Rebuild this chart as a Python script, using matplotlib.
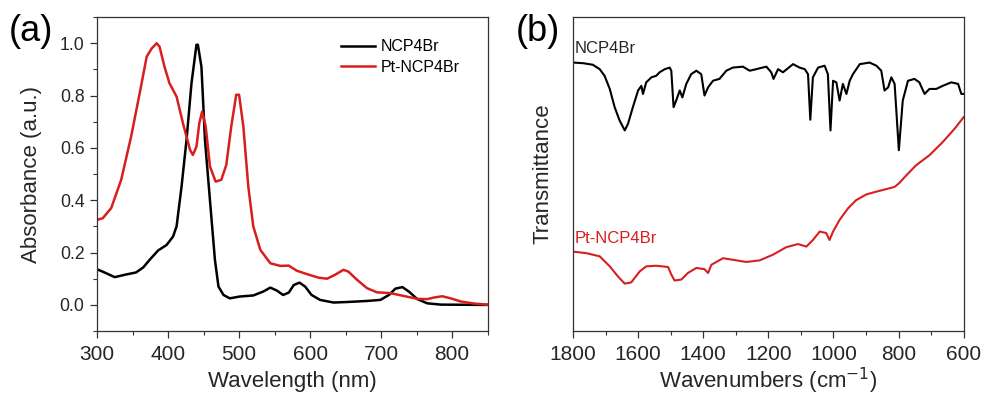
import matplotlib
matplotlib.use('Agg')
import matplotlib.pyplot as plt
from matplotlib.ticker import MultipleLocator, NullLocator

plt.rcParams['font.family'] = ['Liberation Sans', 'DejaVu Sans']

# UV-vis absorbance (panel a)
wl_ncp = [300, 308, 325, 339, 355, 365, 374, 386, 398, 407, 412, 419, 426, 433, 440, 442,
          447, 452, 459, 466, 471, 478, 487, 501, 520, 534, 544, 553, 562, 570, 577, 585,
          593, 602, 614, 633, 652, 680, 699, 711, 720, 730, 739, 751, 765, 784, 850]
abs_ncp = [0.136, 0.127, 0.106, 0.115, 0.124, 0.143, 0.172, 0.208, 0.229, 0.261, 0.30, 0.452,
           0.63, 0.847, 0.994, 0.994, 0.91, 0.63, 0.40, 0.172, 0.07, 0.038, 0.025, 0.032,
           0.036, 0.051, 0.066, 0.055, 0.038, 0.047, 0.076, 0.085, 0.07, 0.038, 0.019, 0.009,
           0.011, 0.015, 0.019, 0.038, 0.062, 0.068, 0.051, 0.022, 0.006, 0.001, 0.0]

wl_pt = [300, 308, 320, 334, 348, 360, 370, 377, 384, 388, 395, 402, 412, 421, 431, 435,
         440, 444, 448, 453, 459, 467, 475, 482, 489, 496, 500, 506, 513, 520, 530, 544,
         558, 570, 581, 595, 612, 624, 635, 647, 654, 666, 680, 694, 713, 732, 751, 765,
         774, 786, 798, 812, 831, 850]
abs_pt = [0.325, 0.331, 0.37, 0.478, 0.643, 0.808, 0.949, 0.98, 1.0, 0.987, 0.91, 0.847,
          0.796, 0.694, 0.592, 0.573, 0.605, 0.694, 0.739, 0.682, 0.529, 0.471, 0.478,
          0.535, 0.682, 0.803, 0.803, 0.682, 0.452, 0.30, 0.21, 0.159, 0.149, 0.150, 0.131,
          0.118, 0.104, 0.10, 0.115, 0.134, 0.127, 0.096, 0.064, 0.048, 0.045, 0.034, 0.023,
          0.022, 0.028, 0.033, 0.025, 0.013, 0.005, 0.001]

# FTIR transmittance, arbitrary units (panel b)
wn_ncp = [1800, 1769, 1739, 1718, 1703, 1687, 1672, 1657, 1641, 1631, 1616, 1600, 1590, 1585,
          1575, 1559, 1544, 1534, 1518, 1503, 1498, 1491, 1483, 1472, 1464, 1452, 1437, 1421,
          1406, 1396, 1385, 1370, 1350, 1329, 1309, 1278, 1257, 1237, 1206, 1191, 1184, 1170,
          1155, 1124, 1104, 1088, 1078, 1071, 1063, 1047, 1027, 1017, 1009, 1001, 991, 981,
          971, 960, 950, 940, 919, 889, 868, 853, 843, 832, 822, 812, 799, 787, 771, 751, 736,
          720, 705, 684, 664, 638, 617, 607, 600]
tr_ncp = [0.855, 0.853, 0.848, 0.834, 0.813, 0.771, 0.713, 0.671, 0.639, 0.660, 0.713, 0.766,
          0.781, 0.755, 0.792, 0.808, 0.813, 0.824, 0.834, 0.839, 0.829, 0.713, 0.734, 0.766,
          0.744, 0.787, 0.818, 0.829, 0.818, 0.750, 0.776, 0.797, 0.803, 0.829, 0.839, 0.842,
          0.829, 0.834, 0.842, 0.824, 0.803, 0.834, 0.824, 0.850, 0.839, 0.834, 0.818, 0.673,
          0.808, 0.839, 0.845, 0.818, 0.639, 0.797, 0.792, 0.734, 0.787, 0.755, 0.797, 0.818,
          0.850, 0.855, 0.845, 0.829, 0.766, 0.776, 0.808, 0.787, 0.576, 0.734, 0.797, 0.803,
          0.792, 0.755, 0.771, 0.771, 0.781, 0.792, 0.787, 0.755, 0.755]

wn_pt = [1800, 1759, 1718, 1687, 1662, 1641, 1621, 1595, 1575, 1544, 1508, 1498, 1488, 1467,
         1447, 1421, 1396, 1385, 1375, 1339, 1309, 1268, 1227, 1186, 1145, 1109, 1083, 1063,
         1042, 1022, 1012, 1001, 981, 955, 930, 899, 868, 838, 812, 797, 776, 746, 705, 664,
         628, 600]
tr_pt = [0.253, 0.248, 0.238, 0.206, 0.174, 0.151, 0.155, 0.190, 0.206, 0.208, 0.204, 0.180,
         0.161, 0.164, 0.185, 0.201, 0.197, 0.185, 0.211, 0.232, 0.227, 0.220, 0.225, 0.243,
         0.267, 0.277, 0.269, 0.290, 0.317, 0.312, 0.290, 0.317, 0.354, 0.391, 0.417, 0.435,
         0.444, 0.452, 0.459, 0.472, 0.496, 0.528, 0.560, 0.602, 0.644, 0.681]

RED = '#d81e1e'
TXT = '#262626'

fig = plt.figure(figsize=(9.84, 3.96), dpi=100)
ax1 = fig.add_axes([0.0986, 0.164, 0.397, 0.793])
ax2 = fig.add_axes([0.5823, 0.164, 0.397, 0.793])

# panel a
ax1.plot(wl_ncp, abs_ncp, color='black', lw=1.8, label='NCP4Br')
ax1.plot(wl_pt, abs_pt, color=RED, lw=1.8, label='Pt-NCP4Br')
ax1.set_xlim(300, 850)
ax1.set_ylim(-0.1, 1.1)
ax1.xaxis.set_major_locator(MultipleLocator(100))
ax1.xaxis.set_minor_locator(MultipleLocator(50))
ax1.yaxis.set_major_locator(MultipleLocator(0.2))
ax1.yaxis.set_minor_locator(MultipleLocator(0.1))
ax1.yaxis.set_major_formatter(matplotlib.ticker.FormatStrFormatter('%.1f'))
ax1.tick_params(axis='x', labelsize=15, pad=5)
ax1.tick_params(axis='y', labelsize=12.7, pad=4)
ax1.set_xlabel('Wavelength (nm)', fontsize=16, color=TXT, labelpad=5)
ax1.set_ylabel('Absorbance (a.u.)', fontsize=16, color=TXT, labelpad=13)
ax1.legend(loc='upper right', bbox_to_anchor=(0.965, 0.975), frameon=False, fontsize=11.5,
           handlelength=2.1, handletextpad=0.35, labelspacing=0.35)
fig.text(0.009, 0.92, '(a)', fontsize=26, color='black', ha='left', va='center')

# panel b
ax2.plot(wn_ncp, tr_ncp, color='black', lw=1.5)
ax2.plot(wn_pt, tr_pt, color=RED, lw=1.5)
ax2.set_xlim(1800, 600)
ax2.set_ylim(0, 1)
ax2.xaxis.set_major_locator(MultipleLocator(200))
ax2.xaxis.set_minor_locator(MultipleLocator(100))
ax2.yaxis.set_major_locator(NullLocator())
ax2.tick_params(axis='x', labelsize=15, pad=5)
ax2.set_xlabel('Wavenumbers (cm$^{-1}$)', fontsize=16, color=TXT, labelpad=1)
ax2.set_ylabel('Transmittance', fontsize=16, color=TXT, labelpad=14)
ax2.text(0.003, 0.875, 'NCP4Br', transform=ax2.transAxes, fontsize=12, color=TXT,
         ha='left', va='bottom')
ax2.text(0.003, 0.27, 'Pt-NCP4Br', transform=ax2.transAxes, fontsize=12, color=RED,
         ha='left', va='bottom')
fig.text(0.524, 0.92, '(b)', fontsize=26, color='black', ha='left', va='center')

for ax in (ax1, ax2):
    for s in ax.spines.values():
        s.set_linewidth(0.9)
        s.set_color('#333333')
    ax.tick_params(which='major', direction='out', length=5, width=0.9, colors='#333333',
                   labelcolor=TXT)
    ax.tick_params(which='minor', direction='out', length=3, width=0.8, colors='#333333')

fig.savefig('out.png', dpi=100)
